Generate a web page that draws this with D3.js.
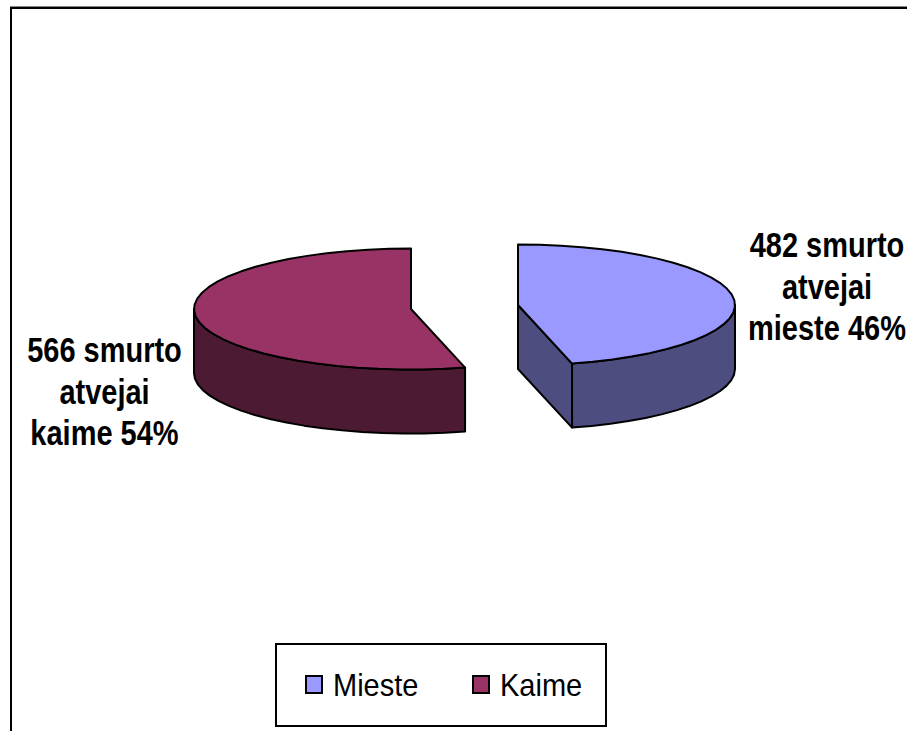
<!DOCTYPE html>
<html>
  <head>
    <meta charset="utf-8" />
    <script src="https://d3js.org/d3.v7.min.js"></script>
    <style>
      body {
        margin: 0;
        background: #fff;
      }
      svg {
        display: block;
      }
      text {
        font-family: "Liberation Sans", Arial, sans-serif;
        fill: #000;
      }
      .label {
        font-size: 29px;
        font-weight: bold;
        text-anchor: middle;
      }
      .legend-text {
        font-size: 29px;
      }
    </style>
  </head>
  <body>
    <svg id="chart" width="907" height="731"></svg>
    <script>
      const categories = ["Mieste", "Kaime"];
      const cases = [482, 566];
      const topColors = ["#9999ff", "#993366"];
      const sideColors = ["#4d4d80", "#4d1a33"];
      const labelLines = [
        ["482 smurto", "atvejai", "mieste 46%"],
        ["566 smurto", "atvejai", "kaime 54%"],
      ];

      const svg = d3.select("#chart");
      const width = +svg.attr("width"),
        height = +svg.attr("height");

      const top_color = d3.scaleOrdinal(categories, topColors);
      const side_color = d3.scaleOrdinal(categories, sideColors);

      // chart frame, it runs off the right and bottom of the picture
      svg.append("path")
        .attr("d", `M${width},6.5H10`)
        .attr("stroke", "#888")
        .attr("fill", "none");
      svg.append("path")
        .attr("d", `M${width},8H11V${height}`)
        .attr("stroke", "#000")
        .attr("stroke-width", 2)
        .attr("fill", "none");

      // each slice is pulled away from the middle, so it has its own apex
      const apex = { Mieste: [518, 305], Kaime: [411, 309] };
      const rx = 217,
        ry = 60.5,
        depth = 64;

      const pie = d3.pie().sort(null).value((d) => d.cases);
      const slices = pie(categories.map((name, i) => ({ name, cases: cases[i] })));

      const rim = (d, a, dy = 0) => [
        apex[d.data.name][0] + rx * Math.sin(a),
        apex[d.data.name][1] - ry * Math.cos(a) + dy,
      ];

      // coarse steps on purpose, the rim in the picture is a bit polygonal
      const steps = (a0, a1) => {
        const n = Math.ceil((a1 - a0) / 0.1);
        return d3.range(n + 1).map((i) => a0 + ((a1 - a0) * i) / n);
      };

      const line = d3.line();
      const g = svg.append("g");

      const drawPart = (pts, fill) =>
        g.append("path")
          .attr("d", line(pts) + "Z")
          .attr("fill", fill)
          .attr("stroke", "#000")
          .attr("stroke-width", 2)
          .attr("stroke-linejoin", "round");

      slices.forEach((d) => {
        const name = d.data.name;
        const a = apex[name];

        if (name === "Mieste") {
          // cut face towards the viewer
          const c = rim(d, d.endAngle);
          drawPart([a, c, [c[0], c[1] + depth], [a[0], a[1] + depth]], side_color(name));
          // outer wall from the right edge down to the cut
          const arc = steps(Math.PI / 2, d.endAngle);
          drawPart(
            arc.map((t) => rim(d, t)).concat(arc.slice().reverse().map((t) => rim(d, t, depth))),
            side_color(name)
          );
        } else {
          const arc = steps(d.startAngle, (3 * Math.PI) / 2);
          drawPart(
            arc.map((t) => rim(d, t)).concat(arc.slice().reverse().map((t) => rim(d, t, depth))),
            side_color(name)
          );
        }

        drawPart(
          [a].concat(steps(d.startAngle, d.endAngle).map((t) => rim(d, t))),
          top_color(name)
        );
      });

      // data labels, the reference text is stretched upwards
      const labelPos = [
        { x: 827, y: 257 },
        { x: 104.5, y: 362 },
      ];
      labelLines.forEach((lines, i) => {
        svg.append("g")
          .selectAll("text")
          .data(lines)
          .enter()
          .append("text")
          .attr("class", "label")
          .attr("transform", (d, j) =>
            `translate(${labelPos[i].x},${labelPos[i].y + j * 41.5}) scale(1,1.18)`
          )
          .text((d) => d);
      });

      // legend
      const legend = svg.append("g");
      legend.append("rect")
        .attr("x", 276)
        .attr("y", 644)
        .attr("width", 330)
        .attr("height", 82)
        .attr("fill", "#fff")
        .attr("stroke", "#000")
        .attr("stroke-width", 2);

      const legendX = d3.scaleOrdinal(categories, [306, 473]);
      legend.selectAll("rect.key")
        .data(categories)
        .enter()
        .append("rect")
        .attr("class", "key")
        .attr("x", (d) => legendX(d))
        .attr("y", 676)
        .attr("width", 16)
        .attr("height", 17)
        .attr("fill", (d) => top_color(d))
        .attr("stroke", "#000")
        .attr("stroke-width", 2);
      legend.selectAll("text")
        .data(categories)
        .enter()
        .append("text")
        .attr("class", "legend-text")
        .attr("transform", (d) => `translate(${legendX(d) + 27},696) scale(1,1.06)`)
        .text((d) => d);
    </script>
  </body>
</html>
